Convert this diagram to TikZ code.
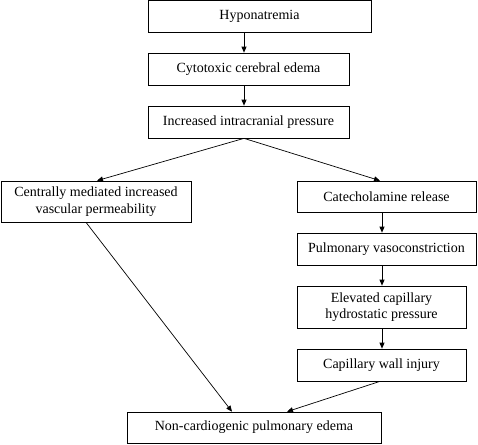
\documentclass[tikz,border=0pt]{standalone}
\usepackage{fontspec}
\setmainfont{Liberation Serif}
\usetikzlibrary{arrows.meta}
\begin{document}
\begin{tikzpicture}[x=1pt,y=-1pt,
  box/.style={draw,line width=0.7pt,inner sep=0pt,align=center,font=\fontsize{14}{16.5}\selectfont},
  arr/.style={line width=0.7pt,-{Triangle[length=6pt,width=5pt]}}]
\useasboundingbox (0,0) rectangle (478,444);
\node[box,minimum width=223pt,minimum height=32pt] (n1) at (259.5,16) {Hyponatremia};
\node[box,minimum width=201pt,minimum height=32pt] (n2) at (248.5,69) {Cytotoxic cerebral edema};
\node[box,minimum width=201pt,minimum height=32pt] (n3) at (248.5,122) {Increased intracranial pressure};
\node[box,minimum width=190pt,minimum height=41pt] (n4) at (96,201.5) {Centrally mediated increased\\vascular permeability};
\node[box,minimum width=179pt,minimum height=31pt] (n5) at (386.5,196.5) {Catecholamine release};
\node[box,minimum width=179pt,minimum height=32pt] (n6) at (386.5,249) {Pulmonary vasoconstriction};
\node[box,minimum width=169pt,minimum height=42pt] (n7) at (381.5,307) {Elevated capillary\\hydrostatic pressure};
\node[box,minimum width=169pt,minimum height=32pt] (n8) at (381.5,365) {Capillary wall injury};
\node[box,minimum width=254pt,minimum height=31pt] (n9) at (254,427.5) {Non-cardiogenic pulmonary edema};
\coordinate (cx) at (244,0);
\coordinate (rx) at (382,0);
\draw[arr] (n1.south -| cx) -- (n2.north -| cx);
\draw[arr] (n2.south -| cx) -- (n3.north -| cx);
\draw[arr] (n3.south -| cx) -- ([xshift=1pt]n4.north);
\draw[arr] (n3.south -| cx) -- ([xshift=-6.5pt]n5.north);
\draw[arr] (n5.south -| rx) -- (n6.north -| rx);
\draw[arr] (n6.south -| rx) -- (n7.north -| rx);
\draw[arr] (n7.south -| rx) -- (n8.north -| rx);
\draw[arr] ([xshift=-10pt]n4.south) -- ([xshift=-22pt]n9.north);
\draw[arr] ([xshift=-1.5pt]n8.south) -- ([xshift=33pt]n9.north);
\end{tikzpicture}
\end{document}
